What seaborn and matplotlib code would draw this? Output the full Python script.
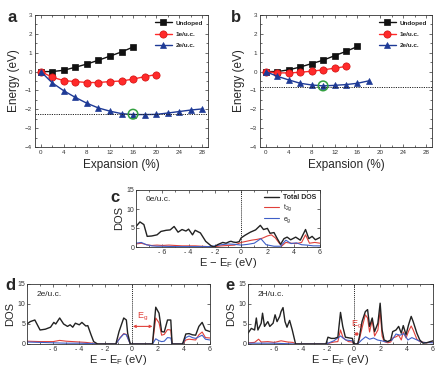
import matplotlib
matplotlib.use('Agg')
import matplotlib.pyplot as plt
from matplotlib.ticker import MultipleLocator
import seaborn as sns
import pandas as pd

# ---------------- data: strain panels ----------------
expansion = [0, 2, 4, 6, 8, 10, 12, 14, 16, 18, 20, 22, 24, 26, 28]
a_undoped = [0.0, 0.0, 0.07, 0.23, 0.40, 0.60, 0.82, 1.04, 1.30]
a_1e = [0.0, -0.30, -0.48, -0.53, -0.58, -0.58, -0.53, -0.50, -0.40, -0.27, -0.16]
a_2e = [0.0, -0.60, -1.02, -1.37, -1.68, -1.93, -2.10, -2.23, -2.28, -2.28, -2.27,
        -2.20, -2.12, -2.04, -1.98]
a_ref = -2.23
a_min = (16, -2.26)

b_undoped = [0.0, 0.0, 0.09, 0.24, 0.42, 0.60, 0.84, 1.07, 1.33]
b_1e = [0.0, -0.07, -0.07, -0.04, 0.02, 0.09, 0.18, 0.27]
b_2e = [0.0, -0.25, -0.44, -0.62, -0.71, -0.76, -0.73, -0.69, -0.62, -0.49]
b_ref = -0.80
b_min = (10, -0.76)

series_labels = ["Undoped", "1e/u.c.", "2e/u.c."]

# ---------------- data: DOS panels ----------------
c_tot_E = [-8, -7.7, -7.4, -7.15, -6.8, -6.4, -6.1, -5.7, -5.4, -5.1, -4.8, -4.5, -4.2, -4.0,
           -3.7, -3.5, -3.1, -2.7, -2.3, -2.05, -1.8, -1.6, -1.4, -1.15, -0.9, -0.77, -0.6,
           -0.38, -0.15, 0, 0.3, 0.7, 1.1, 1.46, 1.7, 2.0, 2.2, 2.5, 2.75, 3.0, 3.26, 3.5,
           3.77, 4.15, 4.5, 4.9, 5.15, 5.4, 5.65, 6.0]
c_tot = [5.4, 6.6, 5.9, 2.8, 2.9, 3.2, 4.1, 4.4, 4.5, 5.4, 3.9, 4.6, 4.2, 4.7, 3.2, 4.4, 3.7,
         1.5, 0.35, 0.0, 0.6, 0.9, 1.2, 1.0, 1.4, 1.5, 1.3, 1.2, 1.4, 2.4,
         3.1, 3.9, 4.5, 5.7, 4.6, 4.9, 3.6, 3.8, 2.2, 0.7, 2.2, 2.6, 1.9, 2.6, 1.8, 4.6,
         2.2, 2.8, 1.9, 2.5]
c_t2g_E = [-8, -7.6, -7.2, -6.8, -6.4, -6.0, -5.5, -5.0, -4.5, -4.0, -3.5, -3.0, -2.5, -2.0,
           -1.5, -1.0, -0.5, 0, 0.4, 0.8, 1.2, 1.6, 2.0, 2.3, 2.6, 2.9, 3.1, 3.4, 3.8, 4.2,
           4.6, 4.9, 5.2, 5.6, 6.0]
c_t2g = [0.8, 1.0, 0.6, 0.4, 0.5, 0.4, 0.5, 0.4, 0.3, 0.3, 0.3, 0.2, 0.1, 0.1, 0.3, 0.4, 0.5,
         1.2, 1.5, 1.8, 2.0, 2.3, 2.9, 3.2, 2.4, 1.0, 0.3, 1.2, 1.0, 0.9, 1.2, 3.2, 1.0,
         1.2, 1.0]
c_eg_E = [-8, -7.6, -7.2, -6.8, -6.4, -6.0, -5.0, -4.0, -3.0, -2.5, -2.0, -1.5, -1.0, -0.5,
          0, 0.5, 1.0, 1.5, 1.9, 2.5, 3.0, 3.4, 3.8, 4.2, 4.6, 5.0, 5.5, 6.0]
c_eg = [1.0, 1.2, 0.6, 0.3, 0.2, 0.2, 0.1, 0.1, 0.1, 0.1, 0.3, 0.6, 0.8, 0.7, 0.5, 0.7, 1.0,
        2.2, 0.6, 0.2, 0.2, 1.8, 0.9, 1.1, 0.6, 0.5, 0.3, 0.3]

d_tot_E = [-8, -7.75, -7.4, -7.0, -6.6, -6.2, -5.95, -5.8, -5.5, -5.2, -4.9, -4.7, -4.5, -4.3,
           -4.0, -3.8, -3.5, -3.35, -3.1, -2.9, -2.6, -1.2, -0.96, -0.6, -0.4, -0.3, -0.1,
           1.6, 1.85, 2.1, 2.3, 2.5, 2.75, 3.0, 3.1, 3.9, 4.15, 4.4, 4.65, 4.9, 5.15, 5.4,
           5.65, 6.0]
d_tot = [5.0, 5.6, 6.0, 3.5, 3.7, 4.2, 5.4, 5.0, 6.5, 5.0, 4.4, 4.8, 4.2, 5.2, 4.8, 5.4, 4.5,
         4.6, 2.3, 0.6, 0.0, 0.0, 3.1, 6.5, 6.0, 2.7, 0.0, 0.0, 9.2, 7.7, 3.1, 3.0, 6.0,
         6.0, 0.0, 0.0, 2.5, 2.6, 2.3, 2.2, 4.4, 5.4, 3.5, 3.1]
d_t2g_E = [-8, -7, -6, -5.5, -5, -4, -3.5, -3.0, -2.6, -1.2, -0.9, -0.6, -0.4, -0.1, 1.6,
           1.85, 2.1, 2.3, 2.5, 2.75, 3.0, 3.1, 3.9, 4.15, 4.4, 4.65, 4.9, 5.15, 5.4, 5.65, 6.0]
d_t2g = [0.7, 0.6, 0.6, 0.9, 0.7, 0.5, 0.4, 0.2, 0.0, 0.0, 1.5, 2.6, 2.4, 0.0, 0.0, 6.5, 5.3,
         2.2, 2.4, 3.6, 3.5, 0.0, 0.0, 1.0, 1.2, 1.1, 1.0, 2.3, 3.0, 1.6, 1.5]
d_eg_E = [-8, -7, -6, -5, -4, -3.0, -2.6, -1.2, -0.9, -0.6, -0.4, -0.1, 1.6, 1.85, 2.1, 2.3,
          2.5, 2.75, 3.0, 3.1, 3.9, 4.15, 4.4, 4.65, 4.9, 5.15, 5.4, 5.65, 6.0]
d_eg = [0.5, 0.4, 0.3, 0.2, 0.2, 0.1, 0.0, 0.0, 1.4, 2.5, 2.3, 0.0, 0.0, 1.3, 0.8, 0.6, 0.7,
        1.6, 1.5, 0.0, 0.0, 1.6, 2.0, 1.6, 1.4, 1.8, 2.2, 1.2, 1.0]
d_gap = (0.1, 1.6)

e_tot_E = [-8, -7.75, -7.5, -7.37, -7.25, -7.0, -6.9, -6.75, -6.5, -6.35, -6.1, -5.95, -5.8,
           -5.6, -5.5, -5.35, -5.2, -5.05, -4.85, -4.65, -4.4, -2.1, -1.95, -1.7, -1.45,
           -1.2, -1.0, -0.83, -0.63, -0.3, -0.1, 0.0, 0.3, 0.43, 0.63, 0.88, 1.05, 1.2,
           1.4, 1.58, 1.83, 2.0, 2.15, 2.3, 2.58, 2.8, 2.95, 3.2, 3.4, 3.6, 3.75, 3.96,
           4.15, 4.35, 4.5, 4.78, 5.0, 5.25, 5.5, 6.0]
e_tot = [2.7, 3.9, 3.5, 6.5, 3.5, 5.2, 7.7, 4.4, 5.6, 4.4, 5.2, 7.3, 5.6, 6.9, 8.1, 9.1, 5.6,
         4.2, 5.9, 3.5, 0.0, 0.0, 1.7, 1.4, 1.4, 1.7, 7.9, 4.4, 1.7, 1.5, 1.4, 0.0, 0.0,
         1.8, 5.6, 8.1, 8.6, 4.4, 6.5, 3.1, 5.2, 10.2, 3.5, 1.0, 0.6, 1.0, 3.1, 3.5, 4.4,
         2.7, 4.6, 2.3, 4.8, 6.9, 5.6, 2.7, 1.0, 0.2, 0.3, 0.8]
e_t2g_E = [-8, -7.5, -7.2, -7.0, -6.5, -6.0, -5.5, -5.0, -4.6, -4.4, -2.1, -1.5, -1.2, -1.0,
           -0.8, -0.4, -0.1, 0.0, 0.3, 0.43, 0.63, 0.88, 1.05, 1.2, 1.4, 1.58, 1.83, 2.0,
           2.15, 2.3, 2.58, 2.8, 2.95, 3.2, 3.4, 3.6, 3.75, 3.96, 4.15, 4.35, 4.5, 4.78,
           5.0, 5.5, 6.0]
e_t2g = [0.3, 0.4, 1.2, 0.5, 0.6, 0.4, 0.8, 0.5, 0.4, 0.0, 0.0, 0.5, 0.6, 3.5, 1.5, 0.6, 0.5,
         0.0, 0.0, 1.2, 4.0, 7.3, 6.5, 3.0, 6.0, 2.0, 3.5, 8.3, 2.0, 0.6, 0.3, 0.5, 1.5,
         1.8, 2.2, 1.0, 3.0, 1.5, 3.2, 4.5, 3.5, 1.2, 0.6, 0.3, 0.5]
e_eg_E = [-8, -6, -4.4, -2.1, -1.5, -1.0, -0.6, -0.1, 0.0, 0.3, 0.6, 0.9, 1.2, 1.5, 1.8, 2.1,
          2.5, 2.9, 3.2, 3.5, 3.8, 4.1, 4.4, 4.8, 5.2, 6.0]
e_eg = [0.2, 0.2, 0.0, 0.0, 0.8, 2.0, 1.0, 0.8, 0.0, 0.0, 1.0, 1.8, 1.2, 1.5, 1.0, 0.8, 0.5,
        1.0, 2.5, 2.2, 2.6, 1.0, 1.6, 1.0, 0.4, 0.3]
e_gap = (0.02, 0.42)

# ---------------- style ----------------
sns.set_theme(style="ticks")
plt.rcParams['font.family'] = ['Liberation Sans', 'DejaVu Sans']
plt.rcParams['mathtext.default'] = 'regular'
plt.rcParams['axes.linewidth'] = 0.6
plt.rcParams['axes.edgecolor'] = '#333333'

BLACK = '#111111'
RED = '#ff2a2a'
BLUE = '#1e3a96'
GREEN = '#33a040'
DRED = '#e0403a'
DBLUE = '#3f5fc8'

W, H = 441, 367
fig = plt.figure(figsize=(W / 100, H / 100), dpi=100)


def px_axes(x0, y0, x1, y1):
    return fig.add_axes([x0 / W, 1 - y1 / H, (x1 - x0) / W, (y1 - y0) / H])


def style_ticks(ax, size=4.5, pad=2):
    ax.tick_params(which='both', direction='in', top=True, right=True,
                   width=0.5, labelsize=size, pad=pad, colors='#333333')
    ax.tick_params(which='major', length=2.2)
    ax.tick_params(which='minor', length=1.2)


def strain_panel(ax, ys, ref, mn, letter, lx):
    styles = [('s', BLACK, BLACK), ('o', RED, '#d01010'), ('^', BLUE, BLUE)]
    for lab, y, (mk, col, mec) in zip(series_labels, ys, styles):
        df = pd.DataFrame({'x': expansion[:len(y)], 'y': y})
        sns.lineplot(data=df, x='x', y='y', ax=ax, color=col, marker=mk,
                     markersize=4.6 if mk != 'o' else 5.2, markeredgecolor=mec,
                     markeredgewidth=0.5, linewidth=1.0, label=lab,
                     estimator=None, sort=False)
    ax.axhline(ref, color='#222222', ls=(0, (1.2, 1.2)), lw=0.7)
    ax.scatter([mn[0]], [mn[1]], s=48, facecolors='none', edgecolors=GREEN,
               linewidths=1.1, zorder=5)
    ax.set_xlim(-1, 29)
    ax.set_ylim(-4, 3)
    ax.xaxis.set_major_locator(MultipleLocator(4))
    ax.xaxis.set_minor_locator(MultipleLocator(2))
    ax.yaxis.set_major_locator(MultipleLocator(1))
    ax.yaxis.set_minor_locator(MultipleLocator(0.5))
    style_ticks(ax)
    ax.set_xlabel('Expansion (%)', fontsize=8.5, labelpad=3)
    ax.set_ylabel('Energy (eV)', fontsize=8.5, labelpad=4)
    ax.legend(loc='upper right', frameon=False, prop={'weight': 'bold', 'size': 4.6},
              handlelength=2.6, handletextpad=0.6, labelspacing=0.9,
              borderaxespad=0.4, numpoints=1)
    fig.text(lx, 1 - 17 / H, letter, fontsize=12, fontweight='bold', va='center', ha='left')


axa = px_axes(35, 15, 208, 147)
strain_panel(axa, [a_undoped, a_1e, a_2e], a_ref, a_min, 'a', 7 / W)
axb = px_axes(260, 15, 432, 147)
strain_panel(axb, [b_undoped, b_1e, b_2e], b_ref, b_min, 'b', 231 / W)


def dos_panel(ax, tot, t2g, eg, tag, letter, lpos, gap=None, legend=False):
    for (E, v), col, lw, lab in [(t2g, DRED, 0.8, '$t_{2g}$'), (eg, DBLUE, 0.8, '$e_g$'),
                                 (tot, '#222222', 1.0, 'Total DOS')]:
        df = pd.DataFrame({'E': E, 'dos': v})
        sns.lineplot(data=df, x='E', y='dos', ax=ax, color=col, linewidth=lw,
                     label=lab if legend else None, estimator=None, sort=False)
    ax.axvline(0, color='#222222', ls=(0, (1, 1)), lw=0.7)
    ax.set_xlim(-8, 6)
    ax.set_ylim(0, 15)
    ax.set_xticks([-6, -4, -2, 0, 2, 4, 6])
    ax.set_xticklabels(['- 6', '- 4', '- 2', '0', '2', '4', '6'])
    ax.xaxis.set_minor_locator(MultipleLocator(1))
    ax.set_yticks([0, 5, 10, 15])
    style_ticks(ax, 5, pad=1.2)
    ax.set_ylabel('DOS', fontsize=8, labelpad=2)
    ax.set_xlabel('E − E$_\\mathregular{F}$ (eV)', fontsize=8, labelpad=0)
    ax.text(0.05, 0.83, tag, transform=ax.transAxes, fontsize=6, va='center')
    if legend:
        h, l = ax.get_legend_handles_labels()
        order = [2, 0, 1]
        leg = ax.legend([h[i] for i in order], [l[i] for i in order], loc='upper right',
                        frameon=False, fontsize=5, handlelength=2.2, handletextpad=0.5,
                        labelspacing=0.2, borderaxespad=0.2)
        leg.get_texts()[0].set_fontweight('bold')
    elif ax.get_legend() is not None:
        ax.get_legend().remove()
    if gap is not None:
        g0, g1, gy, ty = gap
        ax.annotate('', xy=(g0, gy), xytext=(g1, gy),
                    arrowprops=dict(arrowstyle='<->', color=DRED, lw=0.8,
                                    shrinkA=0, shrinkB=0, mutation_scale=4))
        ax.text((g0 + g1) / 2, ty, 'E$_g$', color=DRED, fontsize=6.5, ha='center',
                va='bottom')
    fig.text(lpos[0] / W, 1 - lpos[1] / H, letter, fontsize=12, fontweight='bold',
             va='center', ha='left')


axc = px_axes(136, 190, 320, 247)
dos_panel(axc, (c_tot_E, c_tot), (c_t2g_E, c_t2g), (c_eg_E, c_eg), '0e/u.c.', 'c',
          (110, 198), legend=True)
axd = px_axes(27, 284, 210, 344)
dos_panel(axd, (d_tot_E, d_tot), (d_t2g_E, d_t2g), (d_eg_E, d_eg), '2e/u.c.', 'd',
          (5, 285), gap=(d_gap[0], d_gap[1], 4.4, 5.3))
axe = px_axes(248, 284, 433, 344)
dos_panel(axe, (e_tot_E, e_tot), (e_t2g_E, e_t2g), (e_eg_E, e_eg), '2H/u.c.', 'e',
          (225, 285), gap=(e_gap[0], e_gap[1], 2.5, 3.3))

fig.savefig('out.png', dpi=100)
